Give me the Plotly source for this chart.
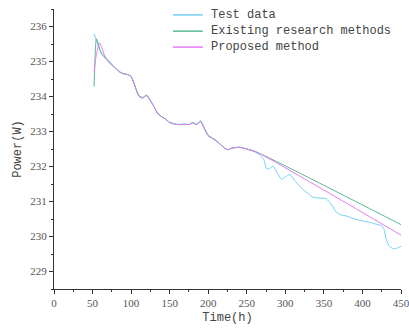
import plotly.graph_objects as go

# Time (h)
time_h = [52, 55, 58, 60, 63, 70, 80, 85, 90, 95, 100, 105, 110, 115, 120, 125, 130, 135, 140,
          145, 150, 160, 170, 175, 180, 185, 190, 195, 200, 210, 220, 225, 230, 240, 250, 260,
          266, 272, 276, 280, 284, 290, 295, 300, 306, 312, 318, 323, 330, 336, 343, 353, 360,
          366, 371, 376, 380, 390, 401, 410, 418, 425, 428, 431, 435, 440, 445, 450]

test_data = [235.79, 235.6, 235.4, 235.3, 235.2, 235.05, 234.8, 234.72, 234.65, 234.63, 234.58,
             234.3, 234.0, 233.95, 234.04, 233.9, 233.7, 233.5, 233.42, 233.35, 233.25, 233.2,
             233.22, 233.2, 233.25, 233.2, 233.3, 233.1, 232.9, 232.75, 232.55, 232.48, 232.52,
             232.55, 232.5, 232.42, 232.34, 232.2, 231.93, 231.95, 232.01, 231.8, 231.63, 231.7,
             231.77, 231.6, 231.45, 231.34, 231.22, 231.12, 231.1, 231.08, 230.9, 230.7, 230.63,
             230.6, 230.58, 230.5, 230.44, 230.4, 230.35, 230.31, 230.2, 229.91, 229.72, 229.65,
             229.67, 229.72]

exist_time = [52, 55, 57, 60, 63, 70, 80, 85, 90, 95, 100, 105, 110, 115, 120, 125, 130, 135,
              140, 145, 150, 160, 170, 175, 180, 185, 190, 195, 200, 210, 220, 225, 230, 240,
              250, 262, 450]
existing = [234.28, 235.65, 235.55, 235.3, 235.18, 235.02, 234.8, 234.7, 234.65, 234.63, 234.57,
            234.3, 234.02, 233.97, 234.04, 233.88, 233.7, 233.5, 233.42, 233.35, 233.26, 233.2,
            233.2, 233.2, 233.25, 233.2, 233.3, 233.08, 232.88, 232.74, 232.55, 232.48, 232.52,
            232.55, 232.5, 232.42, 230.34]

prop_time = [52, 55, 59, 62, 65, 70, 80, 85, 90, 95, 100, 105, 110, 115, 120, 125, 130, 135,
             140, 145, 150, 160, 170, 175, 180, 185, 190, 195, 200, 210, 220, 225, 230, 240,
             250, 262, 450]
proposed = [234.72, 235.2, 235.53, 235.4, 235.2, 235.0, 234.8, 234.7, 234.65, 234.63, 234.56,
            234.3, 234.03, 233.97, 234.02, 233.88, 233.7, 233.5, 233.42, 233.35, 233.26, 233.2,
            233.2, 233.2, 233.24, 233.2, 233.28, 233.08, 232.88, 232.74, 232.55, 232.48, 232.52,
            232.55, 232.5, 232.42, 230.04]

series_names = ["Test data", "Existing research methods", "Proposed method"]
series_colors = ["#72cff6", "#5cb890", "#e27ef0"]

x_ticks = [0, 50, 100, 150, 200, 250, 300, 350, 400, 450]
y_ticks = [229, 230, 231, 232, 233, 234, 235, 236]

fig = go.Figure()
for xs, ys, name, col in zip([time_h, exist_time, prop_time], [test_data, existing, proposed],
                             series_names, series_colors):
    fig.add_trace(go.Scatter(x=xs, y=ys, mode="lines", name=name, showlegend=False,
                             line=dict(color=col, width=1, shape="spline", smoothing=0.6)))

# custom legend (compact rows)
leg_x0, leg_x1, leg_tx = 0.343, 0.429, 0.447
leg_rows = [0.979, 0.921, 0.864]
mono = "Liberation Mono, monospace"
for name, col, yy in zip(series_names, series_colors, leg_rows):
    fig.add_shape(type="line", xref="paper", yref="paper", x0=leg_x0, x1=leg_x1, y0=yy, y1=yy,
                  line=dict(color=col, width=1.5))
    fig.add_annotation(xref="paper", yref="paper", x=leg_tx, y=yy, text=name, showarrow=False,
                       xanchor="left", yanchor="middle",
                       font=dict(family=mono, size=12, color="#444444"))

tick_font = dict(family="Liberation Serif, serif", size=11, color="#555555")
title_font = dict(family=mono, size=12, color="#444444")

fig.update_layout(
    width=409, height=333,
    margin=dict(l=54, r=8, t=9, b=44),
    paper_bgcolor="white", plot_bgcolor="white",
    showlegend=False,
    xaxis=dict(range=[0, 450], tickvals=x_ticks, ticktext=[str(v) for v in x_ticks],
               showgrid=False, zeroline=False, showline=True, linecolor="#333333", linewidth=1,
               ticks="outside", ticklen=4, tickcolor="#333333", tickfont=tick_font,
               ticklabeloverflow="allow", automargin=False,
               minor=dict(dtick=25, ticks="outside", ticklen=2, tickcolor="#333333"),
               title=dict(text="Time(h)", font=title_font, standoff=4)),
    yaxis=dict(range=[228.5, 236.5], tickvals=y_ticks, ticktext=[str(v) for v in y_ticks],
               showgrid=False, zeroline=False, showline=True, linecolor="#333333", linewidth=1,
               ticks="outside", ticklen=4, tickcolor="#333333", tickfont=tick_font,
               automargin=False,
               minor=dict(tick0=228.5, dtick=0.5, ticks="outside", ticklen=2, tickcolor="#333333"),
               title=dict(text="Power(W)", font=title_font, standoff=6)),
)

fig.write_html("out.html")
